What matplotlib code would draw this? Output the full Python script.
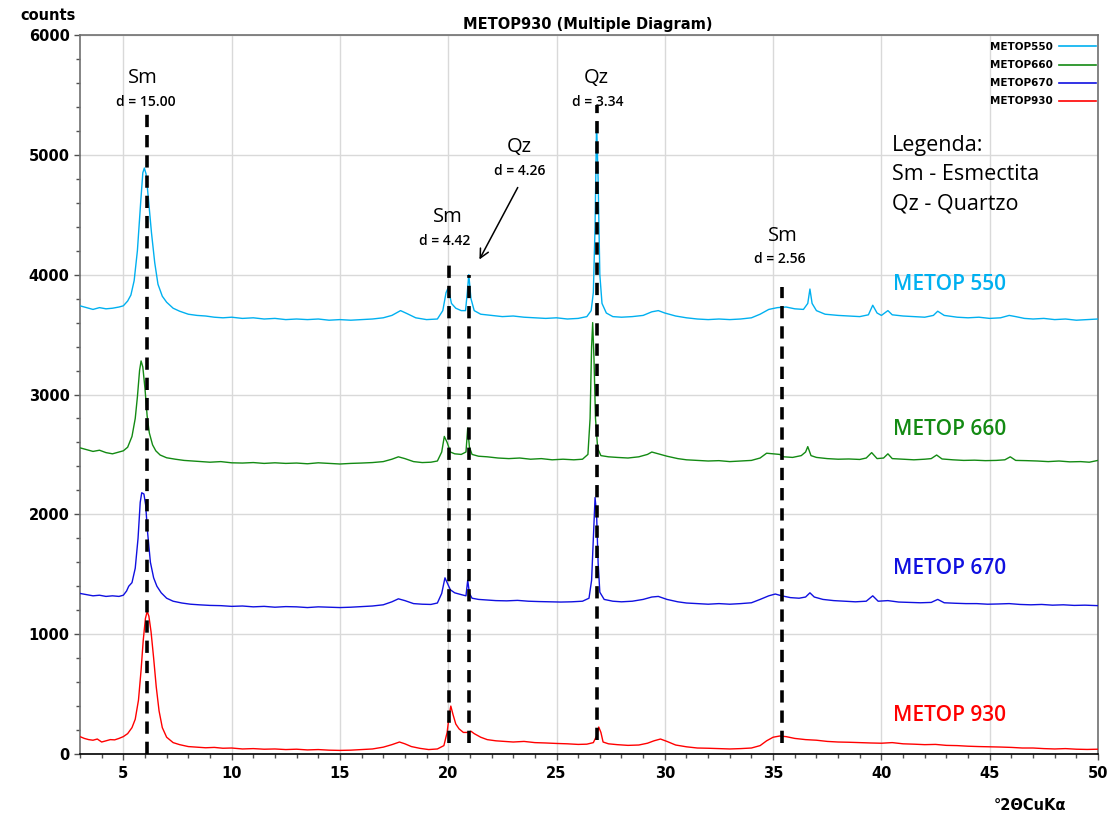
import matplotlib
matplotlib.use("Agg")
import matplotlib.pyplot as plt
from matplotlib.lines import Line2D

# ---- diffractogram data (2theta, counts) ----
x550 = [3.0,3.3,3.6,3.9,4.2,4.5,4.8,5.0,5.2,5.35,5.5,5.65,5.8,5.9,5.97,6.05,6.15,6.3,6.45,6.6,6.8,7.0,7.3,7.6,8.0,8.4,8.8,9.2,9.6,10.0,10.5,11.0,11.5,12.0,12.5,13.0,13.5,14.0,14.5,15.0,15.5,16.0,16.5,17.0,17.4,17.8,18.1,18.5,19.0,19.5,19.75,19.9,20.0,20.15,20.35,20.6,20.8,20.88,20.95,21.05,21.2,21.5,22.0,22.5,23.0,23.5,24.0,24.5,25.0,25.5,26.0,26.4,26.6,26.7,26.78,26.85,26.92,27.0,27.1,27.3,27.6,28.0,28.5,29.0,29.4,29.7,30.0,30.5,31.0,31.5,32.0,32.5,33.0,33.5,34.0,34.4,34.8,35.2,35.6,36.0,36.4,36.6,36.7,36.8,37.0,37.4,38.0,38.5,39.0,39.4,39.6,39.8,40.0,40.3,40.5,41.0,41.5,42.0,42.4,42.6,42.9,43.5,44.0,44.5,45.0,45.5,45.9,46.2,46.6,47.0,47.5,48.0,48.5,49.0,49.5,50.0]
y550 = [3740,3725,3710,3725,3715,3720,3730,3740,3780,3830,3950,4200,4600,4850,4890,4840,4650,4350,4100,3920,3820,3770,3720,3695,3670,3660,3655,3645,3640,3645,3635,3640,3630,3635,3625,3630,3625,3630,3620,3625,3620,3625,3630,3640,3660,3700,3675,3640,3625,3630,3700,3850,3890,3760,3720,3700,3700,3850,4000,3800,3700,3670,3660,3650,3655,3645,3640,3635,3640,3630,3635,3650,3700,3850,4400,5270,4800,4000,3760,3680,3650,3645,3650,3660,3690,3700,3680,3655,3640,3630,3625,3630,3625,3630,3640,3670,3710,3725,3730,3715,3710,3760,3880,3760,3700,3670,3660,3655,3650,3665,3745,3680,3660,3700,3665,3655,3650,3645,3660,3695,3660,3645,3640,3645,3635,3640,3660,3650,3635,3630,3635,3625,3630,3620,3625,3630]

x660 = [3.0,3.3,3.6,3.9,4.2,4.5,4.8,5.0,5.2,5.4,5.55,5.65,5.75,5.82,5.9,6.0,6.1,6.2,6.35,6.5,6.7,7.0,7.4,7.8,8.2,8.6,9.0,9.5,10.0,10.5,11.0,11.5,12.0,12.5,13.0,13.5,14.0,14.5,15.0,15.5,16.0,16.5,17.0,17.4,17.7,18.0,18.4,18.8,19.2,19.5,19.7,19.82,19.95,20.1,20.3,20.6,20.82,20.9,20.98,21.1,21.4,21.8,22.3,22.8,23.3,23.8,24.3,24.8,25.3,25.8,26.2,26.45,26.55,26.62,26.67,26.73,26.8,26.9,27.05,27.4,27.8,28.3,28.8,29.2,29.4,29.7,30.1,30.6,31.0,31.5,32.0,32.5,33.0,33.5,34.0,34.4,34.7,35.0,35.3,35.5,35.9,36.3,36.5,36.6,36.75,37.0,37.5,38.0,38.5,39.0,39.3,39.55,39.8,40.1,40.3,40.5,41.0,41.5,42.0,42.3,42.55,42.8,43.3,43.8,44.3,44.8,45.3,45.7,45.95,46.2,46.7,47.2,47.7,48.2,48.7,49.2,49.6,50.0]
y660 = [2555,2540,2525,2535,2515,2505,2520,2530,2560,2650,2800,2980,3200,3280,3230,3050,2820,2680,2580,2530,2495,2472,2460,2450,2445,2440,2435,2440,2430,2428,2432,2425,2430,2425,2428,2422,2430,2425,2420,2425,2428,2432,2440,2460,2480,2465,2440,2432,2435,2445,2520,2650,2600,2520,2505,2500,2520,2720,2560,2500,2485,2480,2470,2465,2470,2460,2465,2455,2460,2455,2460,2500,2800,3400,3600,3300,2800,2550,2490,2480,2475,2470,2480,2500,2520,2505,2485,2465,2455,2450,2445,2448,2440,2445,2450,2470,2510,2505,2500,2480,2475,2490,2520,2565,2490,2475,2465,2460,2462,2458,2470,2515,2465,2470,2505,2465,2460,2455,2460,2465,2495,2462,2455,2450,2452,2448,2450,2455,2480,2450,2448,2445,2440,2445,2438,2440,2435,2450]

x670 = [3.0,3.3,3.6,3.9,4.2,4.5,4.8,5.0,5.15,5.25,5.4,5.55,5.68,5.78,5.85,5.95,6.03,6.12,6.25,6.4,6.55,6.75,7.0,7.3,7.7,8.1,8.5,9.0,9.5,10.0,10.5,11.0,11.5,12.0,12.5,13.0,13.5,14.0,14.5,15.0,15.5,16.0,16.5,17.0,17.4,17.7,18.0,18.4,18.8,19.2,19.5,19.7,19.85,19.95,20.1,20.3,20.6,20.82,20.9,20.98,21.1,21.4,21.8,22.2,22.7,23.2,23.7,24.2,24.7,25.2,25.7,26.2,26.5,26.62,26.7,26.78,26.85,26.92,27.0,27.2,27.6,28.0,28.5,29.0,29.4,29.7,30.1,30.6,31.0,31.5,32.0,32.5,33.0,33.5,34.0,34.4,34.8,35.1,35.4,35.8,36.2,36.5,36.7,36.9,37.3,37.8,38.3,38.8,39.3,39.6,39.85,40.3,40.8,41.3,41.8,42.3,42.6,42.9,43.4,43.9,44.4,44.9,45.4,45.9,46.4,46.9,47.4,47.9,48.4,48.9,49.4,50.0]
y670 = [1340,1330,1320,1325,1315,1320,1315,1325,1360,1400,1430,1550,1800,2100,2180,2170,2080,1850,1600,1470,1400,1345,1300,1275,1260,1250,1245,1240,1238,1232,1235,1228,1232,1225,1230,1228,1222,1228,1225,1222,1225,1230,1235,1245,1270,1295,1280,1255,1250,1248,1260,1340,1470,1430,1370,1345,1330,1320,1450,1340,1300,1290,1285,1280,1278,1282,1275,1272,1270,1268,1270,1275,1300,1450,1800,2140,2000,1600,1350,1290,1275,1270,1275,1290,1310,1315,1290,1270,1260,1255,1250,1255,1250,1255,1262,1290,1320,1335,1320,1305,1300,1310,1345,1310,1290,1280,1275,1270,1275,1320,1275,1280,1268,1265,1262,1265,1290,1262,1258,1255,1255,1250,1252,1255,1248,1245,1248,1242,1245,1240,1242,1238]

x930 = [3.0,3.2,3.4,3.6,3.8,4.0,4.2,4.4,4.6,4.8,5.0,5.2,5.4,5.55,5.7,5.82,5.92,6.02,6.1,6.18,6.28,6.4,6.52,6.65,6.8,7.0,7.3,7.6,8.0,8.4,8.8,9.2,9.6,10.0,10.5,11.0,11.5,12.0,12.5,13.0,13.5,14.0,14.5,15.0,15.5,16.0,16.5,17.0,17.4,17.75,18.0,18.3,18.7,19.1,19.5,19.8,19.95,20.05,20.12,20.22,20.35,20.5,20.7,20.9,21.05,21.2,21.5,21.8,22.2,22.6,23.0,23.5,24.0,24.5,25.0,25.5,26.0,26.4,26.7,26.85,26.95,27.05,27.15,27.4,27.8,28.3,28.8,29.2,29.5,29.8,30.1,30.5,31.0,31.5,32.0,32.5,33.0,33.5,34.0,34.4,34.7,35.0,35.3,35.6,36.0,36.5,37.0,37.5,38.0,38.5,39.0,39.5,40.0,40.5,41.0,41.5,42.0,42.5,43.0,43.5,44.0,44.5,45.0,45.5,46.0,46.5,47.0,47.5,48.0,48.5,49.0,49.5,50.0]
y930 = [145,130,120,115,125,100,110,120,118,130,145,170,220,290,450,700,950,1130,1190,1150,1020,800,560,360,220,140,95,78,62,57,52,55,48,50,42,45,40,42,37,40,34,37,32,30,32,37,42,57,78,100,85,62,47,37,42,70,180,330,400,330,250,210,180,180,190,170,140,120,110,105,100,105,95,92,88,85,80,82,95,150,225,180,100,85,78,72,75,90,110,125,105,75,60,50,48,45,42,45,50,70,110,140,150,145,130,120,115,105,100,98,95,92,90,95,85,82,78,80,72,70,65,62,60,58,55,50,50,45,42,45,40,38,40]

series_names = ["METOP550", "METOP660", "METOP670", "METOP930"]
series_labels = ["METOP 550", "METOP 660", "METOP 670", "METOP 930"]
series_colors = ["#00b0f0", "#138a13", "#1010e0", "#ff0000"]
series_x = [x550, x660, x670, x930]
series_y = [y550, y660, y670, y930]
label_y = [3922, 2704, 1552, 325]

# reflection markers: position, top, bottom
peak_pos = [6.1, 20.05, 20.95, 26.87, 35.4]
peak_top = [5350, 4080, 4000, 5415, 3900]
peak_bottom = [0, 90, 90, 120, 90]

x_ticks = [5, 10, 15, 20, 25, 30, 35, 40, 45, 50]
y_ticks = [0, 1000, 2000, 3000, 4000, 5000, 6000]

TXT = ["Open Sans", "DejaVu Sans"]

fig = plt.figure(figsize=(11.1, 8.16), dpi=100)
ax = fig.add_axes([80 / 1110, 1 - 754 / 816, (1098 - 80) / 1110, (754 - 35) / 816])

ax.set_xlim(3, 50)
ax.set_ylim(0, 6000)
ax.set_xticks(x_ticks)
ax.set_yticks(y_ticks)
ax.set_xticks(range(3, 51), minor=True)
ax.set_yticks(range(0, 6001, 200), minor=True)
ax.grid(True, which="major", color="#d9d9d9", lw=1.0, zorder=0)
ax.set_axisbelow(True)
for side in ("top", "right", "left"):
    ax.spines[side].set_color("#707070")
ax.spines["bottom"].set_color("#000000")
for s in ax.spines.values():
    s.set_linewidth(1.2)
ax.tick_params(axis="both", which="major", length=4.5, width=1.0, color="#505050", direction="out")
ax.tick_params(axis="both", which="minor", length=3, width=1.0, color="#505050", direction="out")
for lab in ax.get_xticklabels() + ax.get_yticklabels():
    lab.set_fontweight("bold")
    lab.set_fontsize(10.5)
    lab.set_family("DejaVu Sans")
ax.tick_params(axis="x", pad=4)
ax.tick_params(axis="y", pad=3)

handles = []
for xs, ys, c, n in zip(series_x, series_y, series_colors, series_names):
    ax.plot(xs, ys, color=c, lw=1.0, zorder=3)
    handles.append(Line2D([0], [0], color=c, lw=1.2, label=n))

# dashed reflection markers
for p, t, b in zip(peak_pos, peak_top, peak_bottom):
    ax.plot([p, p], [b, t], color="black", lw=2.6, ls=(0, (3.4, 2.2)), zorder=5)

# mineral labels
ann = [("Sm", "d = 15.00", 5.88, 5641, 6.02, 5441),
       ("Sm", "d = 4.42", 19.96, 4481, 19.86, 4281),
       ("Qz", "d = 4.26", 23.27, 5065, 23.32, 4865),
       ("Qz", "d = 3.34", 26.82, 5641, 26.92, 5441),
       ("Sm", "d = 2.56", 35.45, 4323, 35.32, 4131)]
for m, d, mx, my, dx, dy in ann:
    ax.text(mx, my, m, ha="center", va="center", fontsize=14.5, family=TXT, zorder=6)
    ax.text(dx, dy, d, ha="center", va="center", fontsize=10, fontweight="semibold",
            family=TXT, zorder=6)

ax.annotate("", xy=(21.38, 4106), xytext=(23.27, 4748),
            arrowprops=dict(arrowstyle="->", color="black", lw=1.1,
                            mutation_scale=16), zorder=6)

for i, line in enumerate(["Legenda:", "Sm - Esmectita", "Qz - Quartzo"]):
    ax.text(40.5, 5075 - i * 242, line, ha="left", va="center", fontsize=15.5,
            family=TXT, zorder=6)

for lab, c, ly in zip(series_labels, series_colors, label_y):
    ax.text(40.53, ly, lab, ha="left", va="center", fontsize=15, color=c,
            fontweight="semibold", family=TXT, zorder=6)

leg = ax.legend(handles=handles, loc="upper right", bbox_to_anchor=(1.0, 0.993),
                markerfirst=False, frameon=False, fontsize=7.5, handlelength=3.5,
                handletextpad=0.6, labelspacing=0.78, borderpad=0.2, borderaxespad=0)
for t in leg.get_texts():
    t.set_fontweight("bold")
    t.set_family("DejaVu Sans")

fig.text(588 / 1110, 1 - 25 / 816, "METOP930 (Multiple Diagram)", ha="center", va="center",
         fontsize=10.5, fontweight="bold", family="DejaVu Sans")
fig.text(48 / 1110, 1 - 15 / 816, "counts", ha="center", va="center",
         fontsize=10.5, fontweight="bold", family="DejaVu Sans")
fig.text(1030 / 1110, 1 - 805 / 816, "°2ΘCuKα", ha="center", va="center",
         fontsize=10.5, fontweight="bold", family="DejaVu Sans")

fig.savefig("out.png", dpi=100)
